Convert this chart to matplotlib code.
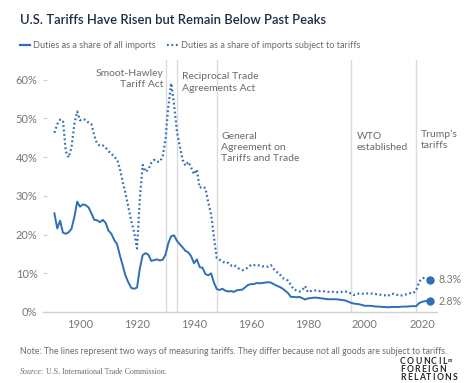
import matplotlib
matplotlib.use("Agg")
import matplotlib.pyplot as plt
from matplotlib.lines import Line2D
import numpy as np

years = list(range(1891, 2024))

all_imports = [
    25.5, 21.6, 23.6, 20.5, 20.2, 20.6, 21.5, 24.5, 28.5,                     # 1891-1899
    27.2, 27.8, 27.6, 27.0, 25.5, 23.8, 23.7, 23.2, 23.8, 23.0,               # 1900-1909
    21.0, 20.2, 18.6, 17.5, 14.6, 12.0, 9.3, 7.6, 6.2, 6.0,                   # 1910-1919
    6.3, 11.3, 14.7, 15.2, 14.8, 13.2, 13.4, 13.6, 13.3, 13.5,                # 1920-1929
    14.8, 17.8, 19.6, 19.8, 18.4, 17.5, 16.7, 15.8, 15.4, 14.4,               # 1930-1939
    12.6, 13.6, 11.6, 11.4, 9.8, 9.5, 10.0, 7.6, 5.9, 5.7,                    # 1940-1949
    6.0, 5.5, 5.3, 5.4, 5.2, 5.6, 5.7, 5.8, 6.4, 7.0,                         # 1950-1959
    7.2, 7.2, 7.5, 7.4, 7.5, 7.6, 7.7, 7.6, 7.2, 6.8,                         # 1960-1969
    6.5, 6.1, 5.5, 4.9, 3.9, 3.9, 3.8, 3.9, 3.6, 3.2,                         # 1970-1979
    3.5, 3.6, 3.7, 3.7, 3.6, 3.5, 3.4, 3.3, 3.3, 3.3,                         # 1980-1989
    3.3, 3.2, 3.1, 3.0, 2.7, 2.4, 2.2, 2.1, 2.0, 1.8,                         # 1990-1999
    1.6, 1.6, 1.6, 1.5, 1.4, 1.4, 1.3, 1.3, 1.2, 1.3,                         # 2000-2009
    1.3, 1.3, 1.3, 1.4, 1.4, 1.4, 1.5, 1.5, 1.5, 2.3,                         # 2010-2019
    2.6, 2.8, 2.9, 2.8,                                                       # 2020-2023
]

dutiable_imports = [
    46.3, 48.5, 49.7, 49.5, 41.5, 39.9, 42.5, 48.5, 51.8,                     # 1891-1899
    49.5, 49.8, 49.7, 48.9, 48.5, 45.5, 43.5, 42.9, 43.0, 42.5,               # 1900-1909
    41.5, 41.0, 40.0, 39.5, 37.0, 33.5, 30.5, 27.0, 23.5, 20.5,               # 1910-1919
    16.4, 29.5, 38.0, 36.2, 36.9, 38.5, 39.3, 38.8, 38.8, 40.1,               # 1920-1929
    44.7, 53.2, 59.1, 53.6, 46.7, 42.9, 39.3, 37.8, 38.8, 37.3,               # 1930-1939
    35.6, 36.8, 32.1, 32.4, 32.0, 28.3, 25.3, 19.3, 13.9, 13.5,               # 1940-1949
    13.1, 12.6, 12.7, 12.0, 12.2, 11.6, 11.1, 10.8, 11.1, 11.5,               # 1950-1959
    12.2, 12.1, 12.2, 12.0, 11.8, 11.8, 11.7, 12.1, 11.1, 10.4,               # 1960-1969
    9.9, 8.8, 8.5, 8.1, 7.0, 5.8, 5.6, 5.3, 5.6, 6.7,                         # 1970-1979
    5.1, 5.4, 5.5, 5.6, 5.4, 5.4, 5.3, 5.2, 5.3, 5.2,                         # 1980-1989
    5.1, 5.2, 5.2, 5.3, 5.2, 4.8, 4.4, 4.5, 4.8, 4.7,                         # 1990-1999
    4.8, 4.8, 4.8, 4.7, 4.6, 4.5, 4.4, 4.3, 4.1, 4.6,                         # 2000-2009
    4.7, 4.5, 4.2, 4.3, 4.5, 4.6, 4.9, 4.9, 5.6, 7.8,                         # 2010-2019
    8.6, 8.9, 8.6, 8.3,                                                       # 2020-2023
]

event_years = [1930, 1934, 1948, 1995, 2018]
event_labels = ["Smoot-Hawley\nTariff Act", "Reciprocal Trade\nAgreements Act",
                "General\nAgreement on\nTariffs and Trade", "WTO\nestablished",
                "Trump\u2019s\ntariffs"]

x_ticks = [1900, 1920, 1940, 1960, 1980, 2000, 2020]
y_ticks = [0, 10, 20, 30, 40, 50, 60]
y_tick_labels = ["0%", "10%", "20%", "30%", "40%", "50%", "60%"]

title = "U.S. Tariffs Have Risen but Remain Below Past Peaks"
legend_labels = ["Duties as a share of all imports",
                 "Duties as a share of imports subject to tariffs"]
note = "Note: The lines represent two ways of measuring tariffs. They differ because not all goods are subject to tariffs."
source_lead = "Source:"
source_text = "U.S. International Trade Commission."
logo_lines = ["COUNCIL", "FOREIGN", "RELATIONS"]

FONT = ["Lato", "DejaVu Sans"]
BLUE = "#2f6eb8"
GRAY_TXT = "#6b6b6b"
TICK_TXT = "#777777"
VLINE = "#dcdcdc"

plt.rcParams["font.family"] = FONT

W, H = 470, 383
fig = plt.figure(figsize=(W / 100, H / 100), dpi=100)
ax = fig.add_axes([43 / W, 1 - 312 / H, (437 - 43) / W, (312 - 60) / H])

ax.set_xlim(1887.0, 2025.3)
ax.set_ylim(0, 65.1)

for ey in event_years:
    ax.axvline(ey, color=VLINE, lw=1.0, zorder=1)

DOT = (0, (0.8, 1.2))
ax.plot(years, all_imports, color=BLUE, lw=1.4, solid_joinstyle="round", zorder=3)
ax.plot(years, dutiable_imports, color=BLUE, lw=1.6, linestyle=DOT, zorder=3)
ax.plot([years[-1]], [all_imports[-1]], "o", color=BLUE, ms=5, zorder=4)
ax.plot([years[-1]], [dutiable_imports[-1]], "o", color=BLUE, ms=5, zorder=4)

ax.text(2025.9, dutiable_imports[-1], f"{dutiable_imports[-1]:.1f}%", fontsize=7.6,
        color=TICK_TXT, va="center", ha="left")
ax.text(2025.9, all_imports[-1], f"{all_imports[-1]:.1f}%", fontsize=7.6,
        color=TICK_TXT, va="center", ha="left")

# event annotations (data coords)
ann_pos = [
    (1929.3, 62.9, "right"),
    (1935.7, 61.9, "left"),
    (1949.5, 46.6, "left"),
    (1997.1, 46.6, "left"),
    (2019.7, 47.1, "left"),
]
for (x, y, ha), lab in zip(ann_pos, event_labels):
    ax.text(x, y, lab, fontsize=7.5, color=GRAY_TXT, ha=ha, va="top",
            linespacing=1.32)

for s in ["top", "right", "left"]:
    ax.spines[s].set_visible(False)
ax.spines["bottom"].set_color("#cfcfcf")
ax.spines["bottom"].set_linewidth(1.0)

ax.set_xticks(x_ticks)
ax.set_xticklabels([str(t) for t in x_ticks])
ax.set_yticks(y_ticks)
ax.set_yticklabels(y_tick_labels)
ax.tick_params(axis="x", length=0, pad=5, labelsize=8, labelcolor=TICK_TXT)
ax.tick_params(axis="y", direction="in", length=3, width=0.8, color="#cfcfcf",
               pad=4, labelsize=8, labelcolor=TICK_TXT)

# Title
fig.text(20 / W, 1 - 20 / H, title, fontsize=9.4, color="#1d2b4a",
         fontweight="semibold", va="center", ha="left")

# Legend
ly = 1 - 45 / H
fig.add_artist(Line2D([20 / W, 30 / W], [ly, ly], color=BLUE, lw=1.6,
                      transform=fig.transFigure))
fig.text(33 / W, ly, legend_labels[0], fontsize=6.6, color=GRAY_TXT, va="center", ha="left")
fig.add_artist(Line2D([167 / W, 178 / W], [ly, ly], color=BLUE, lw=1.6,
                      linestyle=DOT, transform=fig.transFigure))
fig.text(181 / W, ly, legend_labels[1], fontsize=6.6, color=GRAY_TXT, va="center", ha="left")

# Note and source
fig.text(20 / W, 1 - 352 / H, note, fontsize=6.3, color=GRAY_TXT, va="center", ha="left")
src1 = fig.text(20 / W, 1 - 372 / H, source_lead, fontsize=5.7, color=GRAY_TXT,
                family="Liberation Serif", style="italic", va="center", ha="left")
fig.canvas.draw()
renderer = fig.canvas.get_renderer()
bb = src1.get_window_extent(renderer)
fig.text((bb.x1 + 2) / W, 1 - 372 / H, source_text,
         fontsize=5.7, color=GRAY_TXT, family="Liberation Serif", va="center", ha="left")

# CFR logo with letter spacing
def tracked(x_px, y_px, s, size, track):
    x = x_px
    for ch in s:
        t = fig.text(x / W, 1 - y_px / H, ch, fontsize=size, color="#2a2a2a",
                     fontweight="bold", va="center", ha="left")
        w = t.get_window_extent(renderer).width
        x += w + track
    return x

end = tracked(400, 361, logo_lines[0], 6.2, 1.3)
fig.text((end + 0.5) / W, 1 - 361 / H, "on", fontsize=3.3, color="#2a2a2a",
         fontweight="bold", va="center", ha="left")
tracked(400, 369, logo_lines[1], 6.2, 1.3)
tracked(400, 377, logo_lines[2], 6.2, 1.3)

fig.savefig("out.png", dpi=100)
